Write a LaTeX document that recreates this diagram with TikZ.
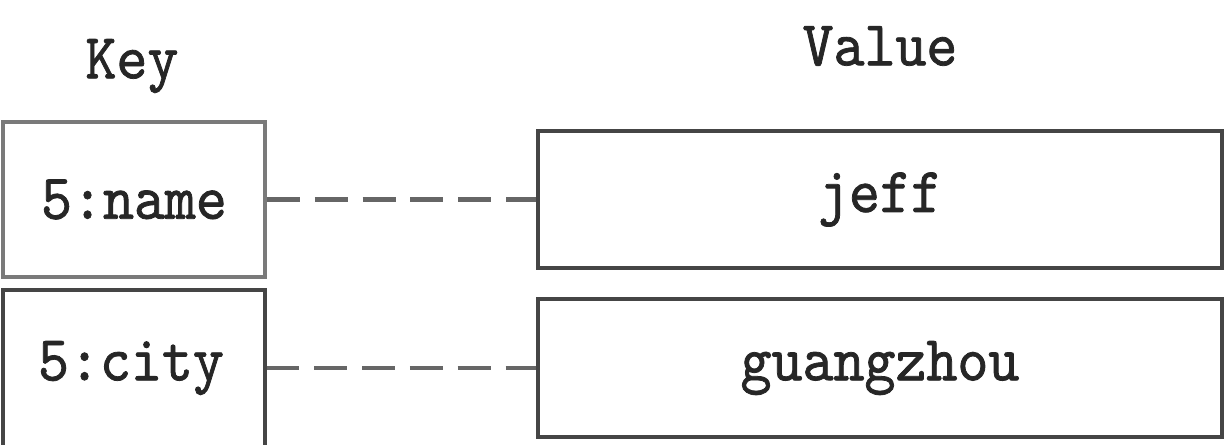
\documentclass[tikz,border=0pt]{standalone}
\usepackage{fontspec}
\newfontfamily\kvfont{lmmono10-regular}[Extension=.otf,FakeBold=1.2,FakeStretch=0.92]
\definecolor{boxgray}{HTML}{454545}
\definecolor{keygray}{HTML}{7A7A7A}
\definecolor{dashgray}{HTML}{666666}
\begin{document}
\begin{tikzpicture}[x=0.02cm,y=-0.02cm,
  lbl/.style={font=\kvfont\fontsize{36.5}{42}\selectfont,text=black!85,inner sep=0pt},
  kvbox/.style={draw=boxgray,line width=1.8pt,fill=white,inner sep=0pt,
    font=\kvfont\fontsize{36.5}{42}\selectfont,text=black!85},
  link/.style={draw=dashgray,line width=2.3pt,dash pattern=on 18.7pt off 8.5pt}]
\useasboundingbox (0,0) rectangle (1225,444);
\clip (0,0) rectangle (1225,444);
\fill[white] (0,0) rectangle (1225,444);
\node[lbl] (keyl) at (132,66) {Key};
\node[lbl] (vall) at (880,46) {Value};
\node[kvbox,draw=keygray,line width=2.4pt,minimum width=5.24cm,minimum height=3.1cm] (k1) at (134,199.5) {5:name};
\node[kvbox,minimum width=5.24cm,minimum height=3.4cm] (k2) at (134,375) {};
\node[lbl] (k2t) at (131,368) {5:city};
\node[kvbox,minimum width=13.68cm,minimum height=2.74cm] (v1) at (880,199.5) {jeff};
\node[kvbox,minimum width=13.68cm,minimum height=2.76cm] (v2) at (880,368) {guangzhou};
\draw[link] (k1.east) -- (v1.west |- k1.east);
\draw[link] (k2.east |- v2.west) -- (v2.west);
\end{tikzpicture}
\end{document}
